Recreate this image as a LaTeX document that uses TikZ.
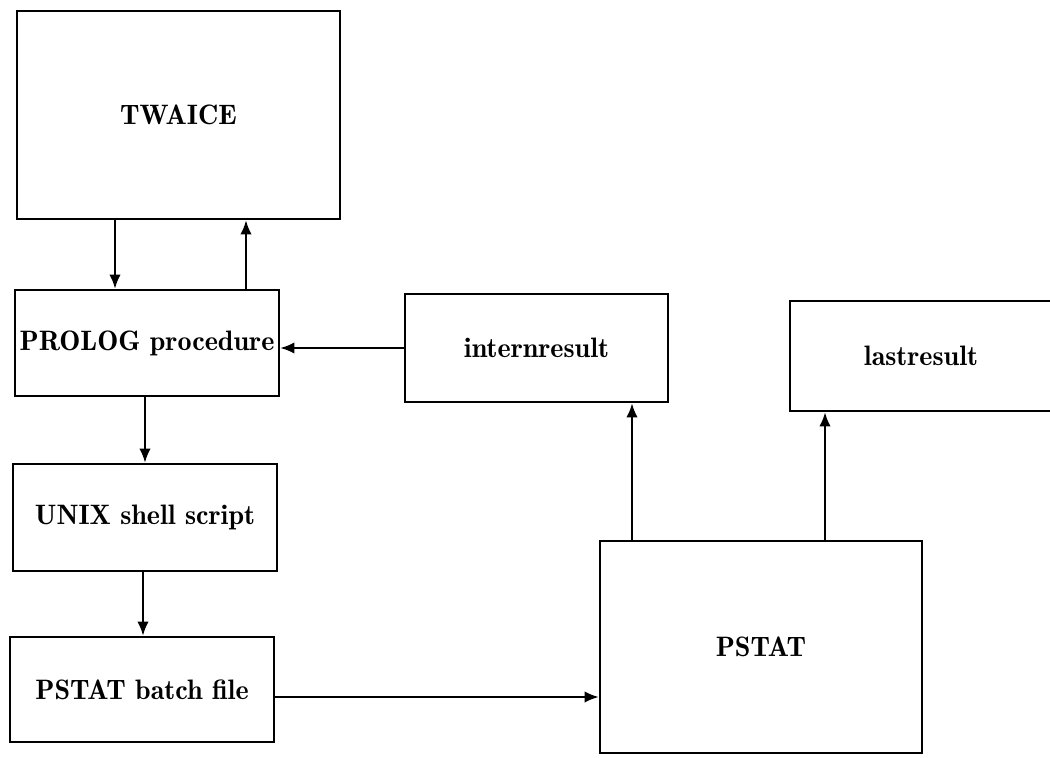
\documentclass[tikz,border=0pt]{standalone}
\usepackage{tikz}
\usetikzlibrary{arrows.meta,positioning}

\tikzset{
  blockbox/.style={draw,line width=1.5pt,inner sep=0pt,font=\fontsize{16}{19}\fontseries{b}\selectfont},
  flowarrow/.style={line width=1.2pt,-{Latex[length=8pt,width=6.5pt]}}
}

\begin{document}
\begin{tikzpicture}[x=0.02cm, y=-0.02cm]
  \useasboundingbox (0,0) rectangle (1050,757);
  \clip (0,0) rectangle (1050,757);

  % left column
  \node[blockbox,minimum width=6.46cm,minimum height=4.16cm] (twaice) at (178.5,115) {TWAICE};
  \node[blockbox,minimum width=5.28cm,minimum height=2.12cm] (prolog) at (147,343) {PROLOG procedure};
  \node[blockbox,minimum width=5.28cm,minimum height=2.14cm] (unix) at (145,517.5) {UNIX shell script};
  \node[blockbox,minimum width=5.28cm,minimum height=2.1cm] (batch) at (142,689.5) {PSTAT batch file};

  % right part
  \node[blockbox,minimum width=5.26cm,minimum height=2.16cm] (intern) at (536.5,348) {internresult};
  \node[blockbox,minimum width=5.24cm,minimum height=2.2cm] (last) at (921,356) {lastresult};
  \node[blockbox,minimum width=6.44cm,minimum height=4.24cm] (pstat) at (761,647) {PSTAT};

  \coordinate (down1) at (115,0);
  \coordinate (up1) at (246,0);
  \draw[flowarrow] (twaice.south -| down1) -- (prolog.north -| down1);
  \draw[flowarrow] (prolog.north -| up1) -- (twaice.south -| up1);
  \draw[flowarrow] (prolog.south -| 145,0) -- (unix.north -| 145,0);
  \draw[flowarrow] (unix.south -| 143,0) -- (batch.north -| 143,0);
  \draw[flowarrow] (batch.east |- 0,697) -- (pstat.west |- 0,697);
  \draw[flowarrow] (intern.west) -- (intern.west -| prolog.east);
  \draw[flowarrow] (pstat.north -| 632,0) -- (intern.south -| 632,0);
  \draw[flowarrow] (pstat.north -| 825,0) -- (last.south -| 825,0);
\end{tikzpicture}
\end{document}
